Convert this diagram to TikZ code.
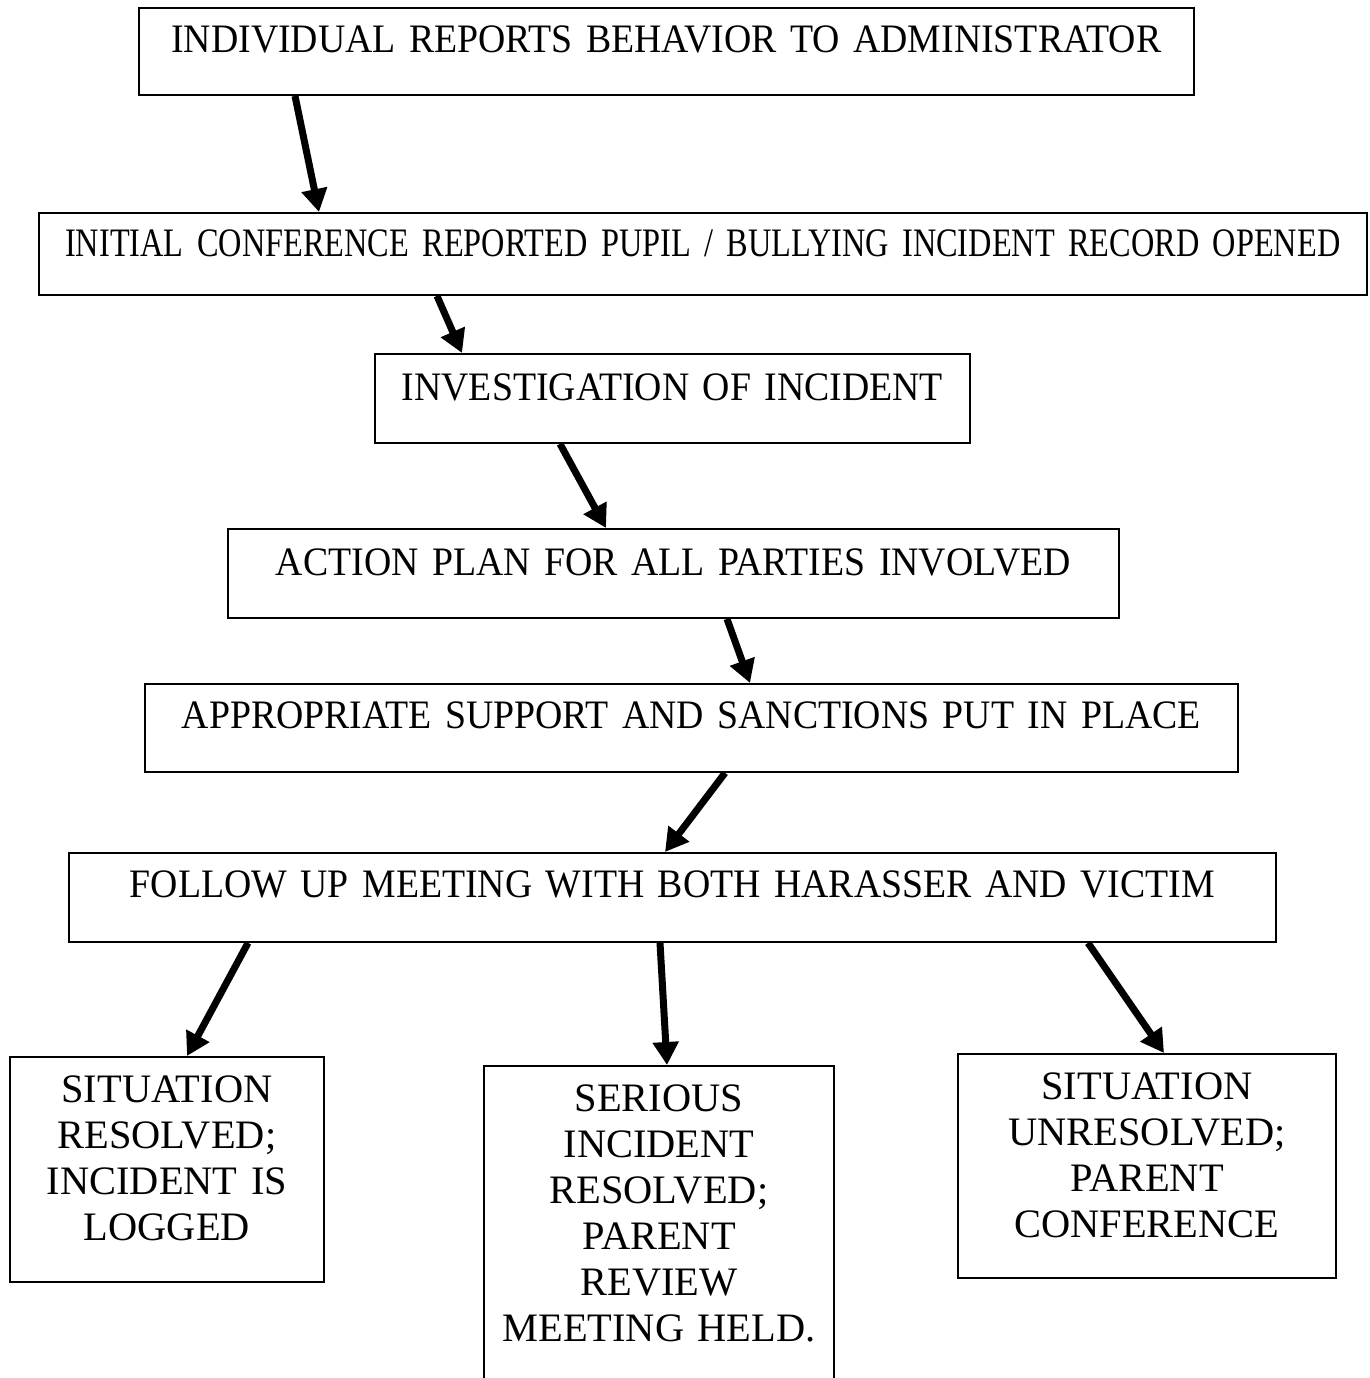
\documentclass[tikz,border=0pt]{standalone}
\usepackage{fontspec}
\setmainfont{Liberation Serif}
\newfontfamily\narrowserif{Liberation Serif}[FakeStretch=0.935]
\newfontfamily\tightserif{Liberation Serif}[FakeStretch=0.80]
\usetikzlibrary{arrows.meta,calc}

\tikzset{
	stagebox/.style={draw, line width=1.1pt, inner sep=0pt, anchor=north west, align=center,
		font=\fontsize{23}{26.1}\selectfont},
	flow/.style={-{Triangle[length=0.46cm, width=0.5cm]}, line width=0.14cm}
}

\begin{document}
\begin{tikzpicture}[x=0.02cm, y=-0.02cm]
			\useasboundingbox (0,0) rectangle (1369,1378);
			% main chain
			\node[stagebox, text width=21.10cm, text height=0.90cm, text depth=0.84cm] (report) at (138,7)
				{\narrowserif INDIVIDUAL REPORTS BEHAVIOR TO ADMINISTRATOR};
			\node[stagebox, text width=26.56cm, text height=0.88cm, text depth=0.76cm] (conference) at (38,212)
				{\tightserif INITIAL CONFERENCE REPORTED PUPIL / BULLYING INCIDENT RECORD OPENED};
			\node[stagebox, text width=11.90cm, text height=0.94cm, text depth=0.84cm] (investigation) at (374,353)
				{\narrowserif INVESTIGATION OF INCIDENT};
			\node[stagebox, text width=17.82cm, text height=0.94cm, text depth=0.84cm] (plan) at (227,528)
				{\narrowserif ACTION PLAN FOR ALL PARTIES INVOLVED};
			\node[stagebox, text width=21.86cm, text height=0.90cm, text depth=0.86cm] (support) at (144,683)
				{\narrowserif APPROPRIATE SUPPORT AND SANCTIONS PUT IN PLACE};
			\node[stagebox, text width=24.14cm, text height=0.90cm, text depth=0.88cm] (followup) at (68,852)
				{\narrowserif FOLLOW UP MEETING WITH BOTH HARASSER AND VICTIM};
			% outcomes
			\node[stagebox, text width=6.28cm, text height=0.92cm, text depth=3.58cm] (resolved) at (9,1056)
				{SITUATION\\RESOLVED;\\INCIDENT IS\\LOGGED};
			\node[stagebox, text width=7.00cm, text height=0.92cm, text depth=5.78cm] (serious) at (483,1065)
				{SERIOUS\\INCIDENT\\RESOLVED;\\PARENT\\REVIEW\\MEETING HELD.};
			\node[stagebox, text width=7.56cm, text height=0.92cm, text depth=3.56cm] (unresolved) at (957,1053)
				{SITUATION\\UNRESOLVED;\\PARENT\\CONFERENCE};

			\draw[flow] ($(report.south west)+(157,0)$) -- ($(conference.north west)+(281,0)$);
			\draw[flow] ($(conference.south west)+(399,0)$) -- ($(investigation.north west)+(88,0)$);
			\draw[flow] ($(investigation.south west)+(186,0)$) -- ($(plan.north west)+(379,0)$);
			\draw[flow] ($(plan.south west)+(500,0)$) -- ($(support.north west)+(606,0)$);
			\draw[flow] ($(support.south west)+(581,0)$) -- ($(followup.north west)+(597,0)$);
			\draw[flow] ($(followup.south west)+(180,0)$) -- ($(resolved.north west)+(178,0)$);
			\draw[flow] ($(followup.south west)+(592,0)$) -- ($(serious.north west)+(184,0)$);
			\draw[flow] ($(followup.south west)+(1020,0)$) -- ($(unresolved.north west)+(207,0)$);
		\end{tikzpicture}
\end{document}
